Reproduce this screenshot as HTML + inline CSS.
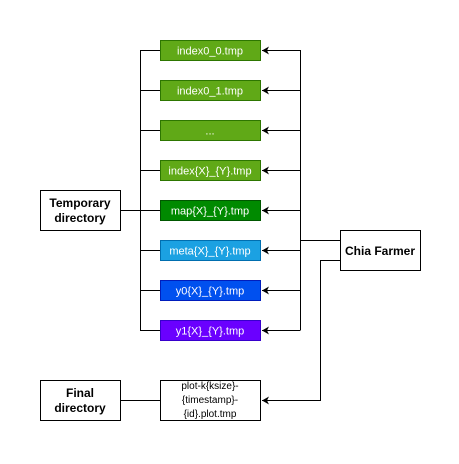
<!DOCTYPE html>
<html><head><meta charset="utf-8"><style>body{margin:0;background:#fff}</style></head><body>
<svg width="459" height="459" xmlns="http://www.w3.org/2000/svg" font-family="Liberation Sans, Arial, sans-serif">
<defs><marker id="a" markerWidth="8" markerHeight="8" refX="7" refY="4" orient="auto" markerUnits="userSpaceOnUse"><path d="M0,0 L7,4 L0,8 L2,4 Z" fill="#000"/></marker></defs>
<g stroke="#000" fill="none" stroke-width="1">
<path d="M140.5,50 V330.5"/>
<path d="M140,50.5H160M140,90.5H160M140,130.5H160M140,170.5H160M140,250.5H160M140,290.5H160M140,330.5H160M120,210.5H160"/>
<path d="M300.5,50 V330.5"/>
<path d="M300,50.5H262" marker-end="url(#a)"/>
<path d="M300,90.5H262" marker-end="url(#a)"/>
<path d="M300,130.5H262" marker-end="url(#a)"/>
<path d="M300,170.5H262" marker-end="url(#a)"/>
<path d="M300,210.5H262" marker-end="url(#a)"/>
<path d="M300,250.5H262" marker-end="url(#a)"/>
<path d="M300,290.5H262" marker-end="url(#a)"/>
<path d="M300,330.5H262" marker-end="url(#a)"/>
<path d="M340,240.5H300"/>
<path d="M340,260.5H320.5V400.5H262" marker-end="url(#a)"/>
<path d="M120,400.5H160"/>
</g>
<g stroke-width="1">
<rect x="160.5" y="40.5" width="100" height="20" fill="#60a917" stroke="#2d7600"/>
<rect x="160.5" y="80.5" width="100" height="20" fill="#60a917" stroke="#2d7600"/>
<rect x="160.5" y="120.5" width="100" height="20" fill="#60a917" stroke="#2d7600"/>
<rect x="160.5" y="160.5" width="100" height="20" fill="#60a917" stroke="#2d7600"/>
<rect x="160.5" y="200.5" width="100" height="20" fill="#008a00" stroke="#005700"/>
<rect x="160.5" y="240.5" width="100" height="20" fill="#1ba1e2" stroke="#006eaf"/>
<rect x="160.5" y="280.5" width="100" height="20" fill="#0050ef" stroke="#001dbc"/>
<rect x="160.5" y="320.5" width="100" height="20" fill="#6a00ff" stroke="#3700cc"/>
<rect x="40.5" y="190.5" width="80" height="40" fill="#fff" stroke="#000"/>
<rect x="340.5" y="230.5" width="80" height="40" fill="#fff" stroke="#000"/>
<rect x="40.5" y="380.5" width="80" height="40" fill="#fff" stroke="#000"/>
<rect x="160.5" y="380.5" width="100" height="40" fill="#fff" stroke="#000"/>
</g>
<g fill="#fff" font-size="11" text-anchor="middle">
<text x="210" y="54.5">index0_0.tmp</text>
<text x="210" y="94.5">index0_1.tmp</text>
<text x="210" y="134.5">...</text>
<text x="210" y="174.5">index{X}_{Y}.tmp</text>
<text x="210" y="214.5">map{X}_{Y}.tmp</text>
<text x="210" y="254.5">meta{X}_{Y}.tmp</text>
<text x="210" y="294.5">y0{X}_{Y}.tmp</text>
<text x="210" y="334.5">y1{X}_{Y}.tmp</text>
</g>
<g fill="#000" font-size="12" font-weight="bold" text-anchor="middle">
<text x="80" y="207">Temporary</text>
<text x="80" y="222">directory</text>
<text x="380" y="255">Chia Farmer</text>
<text x="80" y="397">Final</text>
<text x="80" y="412">directory</text>
</g>
<g fill="#000" font-size="10" text-anchor="middle">
<text x="210" y="389">plot-k{ksize}-</text>
<text x="210" y="403">{timestamp}-</text>
<text x="210" y="417">{id}.plot.tmp</text>
</g>
</svg>
</body></html>
